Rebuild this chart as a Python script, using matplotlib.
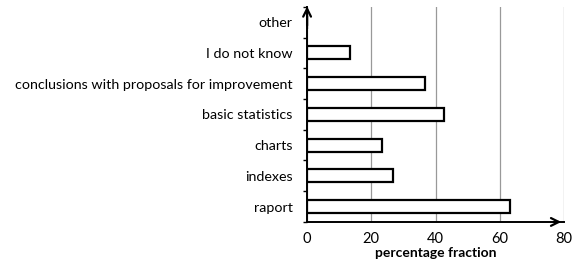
import matplotlib
matplotlib.use("Agg")
import matplotlib.pyplot as plt
import numpy as np

categories = ["raport", "indexes", "charts", "basic statistics",
              "conclusions with proposals for improvement", "I do not know", "other"]
values = [63.3, 26.9, 23.2, 42.6, 36.8, 13.3, 0]
xticks = [0, 20, 40, 60, 80]
xlabel = "percentage fraction"

plt.rcParams['font.family'] = ['Lato', 'DejaVu Sans']

fig = plt.figure(figsize=(5.74, 2.73), dpi=100)
ax = fig.add_axes([0.535, 0.187, 0.9826 - 0.535, 0.975 - 0.187])

y = np.arange(len(categories))
ax.barh(y, values, height=0.42, color='white', edgecolor='black', linewidth=1.6, zorder=3)

ax.set_xlim(0, 80)
ax.set_ylim(-0.5, len(categories) - 0.5)
ax.set_xticks(xticks)
ax.set_xticklabels([str(t) for t in xticks], fontsize=10.5)
ax.set_yticks(y)
ax.set_yticklabels(categories, fontsize=10.3)
ax.tick_params(axis='y', length=0, pad=10.5)
ax.set_yticks(np.arange(-0.5, len(categories), 1), minor=True)
ax.tick_params(axis='y', which='minor', length=3, width=1, direction='out')
ax.tick_params(axis='x', length=0, pad=7)

ax.grid(axis='x', color='#999999', linewidth=0.9, zorder=0)
for s in ['top', 'right']:
    ax.spines[s].set_visible(False)
for s in ['left', 'bottom']:
    ax.spines[s].set_linewidth(1.4)
    ax.spines[s].set_zorder(4)

ax.annotate('', xy=(1.0, 0), xycoords='axes fraction', xytext=(0.95, 0),
            arrowprops=dict(arrowstyle='->', lw=1.6, color='black', mutation_scale=14))
ax.annotate('', xy=(0, 1.015), xycoords='axes fraction', xytext=(0, 0.9),
            arrowprops=dict(arrowstyle='->', lw=1.6, color='black', mutation_scale=14))

ax.set_xlabel(xlabel, fontsize=10, fontweight='bold', labelpad=1)

fig.savefig("out.png", dpi=100)
